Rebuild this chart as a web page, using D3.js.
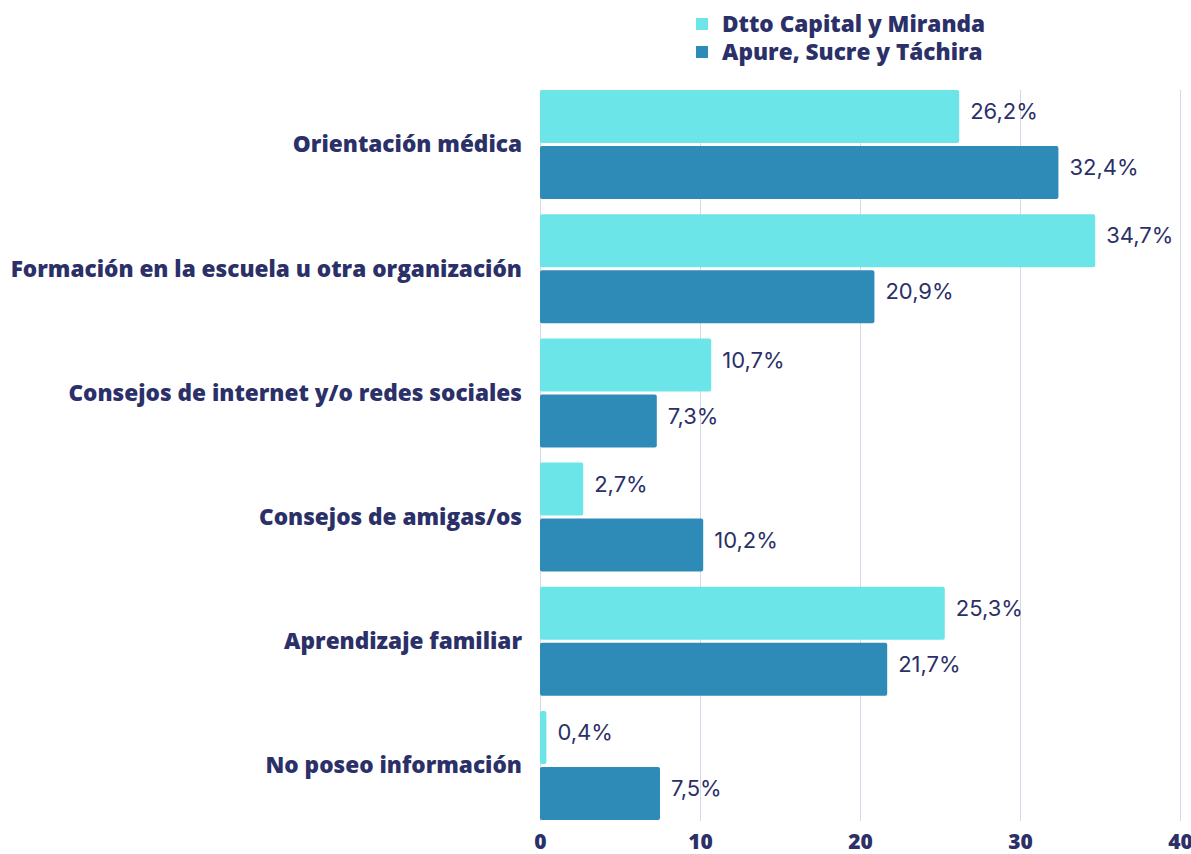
<!DOCTYPE html>
<html>
<head>
<meta charset="utf-8">
<script src="https://cdn.jsdelivr.net/npm/d3@7"></script>
<style>
  body { margin: 0; background: #fff; }
  svg text { fill: #2b3068; }
  .cat { font-family: "Open Sans", sans-serif; font-weight: 800; font-size: 22.6px; }
  .leg { font-family: "Open Sans", sans-serif; font-weight: 800; font-size: 22.6px; }
  .val { font-family: Inter, "Noto Sans", sans-serif; font-weight: 400; font-size: 22px; }
  .tick-lbl { font-family: "Open Sans", sans-serif; font-weight: 800; font-size: 21px; }
</style>
</head>
<body>
<div class="svg-container"></div>
<script>
// Data
const categories = [
  "Orientación médica",
  "Formación en la escuela u otra organización",
  "Consejos de internet y/o redes sociales",
  "Consejos de amigas/os",
  "Aprendizaje familiar",
  "No poseo información"
];
const seriesNames = ["Dtto Capital y Miranda", "Apure, Sucre y Táchira"];
const capitalMiranda = [26.2, 34.7, 10.7, 2.7, 25.3, 0.4];
const apureSucreTachira = [32.4, 20.9, 7.3, 10.2, 21.7, 7.5];
const xTicks = [0, 10, 20, 30, 40];
const colors = ["#6ce5e8", "#2e8bb8"];

const width = 1191;
const height = 854;
const margin = { top: 90, right: 11, bottom: 33, left: 540 };

const svg = d3.select(".svg-container")
  .append("svg")
  .attr("width", width)
  .attr("height", height);

// Scales
const xScale = d3.scaleLinear().domain([0, 40]).range([margin.left, width - margin.right]);
const yScale = d3.scaleBand()
  .domain(categories)
  .range([margin.top, height - margin.bottom - 1])
  .paddingInner(0.122)
  .paddingOuter(0);
const ySub = d3.scaleBand()
  .domain(seriesNames)
  .range([0, yScale.bandwidth()])
  .paddingInner(0.054);

// Grid lines
svg.append("g")
  .selectAll("line")
  .data(xTicks)
  .enter()
  .append("line")
  .attr("x1", (d) => xScale(d) + 0.5)
  .attr("x2", (d) => xScale(d) + 0.5)
  .attr("y1", margin.top)
  .attr("y2", height - margin.bottom)
  .style("stroke", "#d6d6e6")
  .style("stroke-width", 1);

// X axis (labels only)
const xAxis = d3.axisBottom(xScale).tickValues(xTicks).tickSize(0).tickPadding(0);
const gx = svg.append("g")
  .attr("transform", `translate(0, ${height - margin.bottom + 8})`)
  .call(xAxis);
gx.select(".domain").remove();
gx.selectAll("text")
  .attr("class", "tick-lbl")
  .attr("dy", "0.95em")
  .attr("fill", null);

// Rows
const table = categories.map((c, i) => ({
  cat: c,
  values: [
    { s: seriesNames[0], v: capitalMiranda[i], color: colors[0] },
    { s: seriesNames[1], v: apureSucreTachira[i], color: colors[1] }
  ]
}));

const rows = svg.append("g")
  .selectAll("g")
  .data(table)
  .enter()
  .append("g")
  .attr("transform", (d) => `translate(0, ${yScale(d.cat)})`);

rows.selectAll("rect")
  .data((d) => d.values)
  .enter()
  .append("rect")
  .attr("x", xScale(0))
  .attr("y", (d) => ySub(d.s))
  .attr("width", (d) => xScale(d.v) - xScale(0))
  .attr("height", ySub.bandwidth())
  .attr("rx", 2)
  .style("fill", (d) => d.color);

// Value labels
rows.selectAll("text.val")
  .data((d) => d.values)
  .enter()
  .append("text")
  .attr("class", "val")
  .attr("x", (d) => xScale(d.v) + 11)
  .attr("y", (d) => ySub(d.s) + ySub.bandwidth() / 2 - 5)
  .attr("dy", "0.35em")
  .text((d) => d.v.toFixed(1).replace(".", ",") + "%");

// Category labels
rows.append("text")
  .attr("class", "cat")
  .attr("x", margin.left - 18)
  .attr("y", yScale.bandwidth() / 2)
  .attr("dy", "0.35em")
  .attr("text-anchor", "end")
  .text((d) => d.cat);

// Legend
const legend = svg.append("g")
  .attr("transform", "translate(696, 18)");
seriesNames.forEach((name, i) => {
  legend.append("rect")
    .attr("x", 0)
    .attr("y", i * 28)
    .attr("width", 12)
    .attr("height", 12)
    .style("fill", colors[i]);
  legend.append("text")
    .attr("class", "leg")
    .attr("x", 26)
    .attr("y", i * 28 + 6)
    .attr("dy", "0.35em")
    .text(name);
});
</script>
</body>
</html>
